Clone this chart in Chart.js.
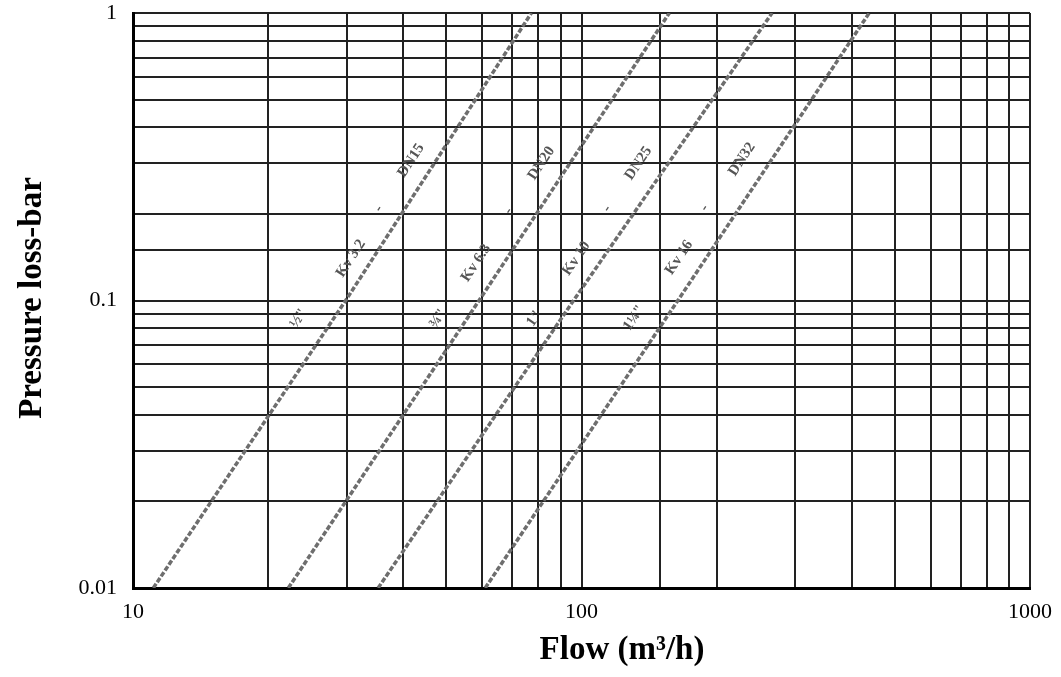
<!DOCTYPE html>
<html>
<head>
<meta charset="utf-8">
<script src="https://cdn.jsdelivr.net/npm/chart.js@4/dist/chart.umd.min.js"></script>
<style>
  html, body { margin: 0; padding: 0; background: #fff; }
  #wrap { width: 1061px; height: 677px; position: relative; }
</style>
</head>
<body>
<div id="wrap"><canvas id="c" width="1061" height="677"></canvas></div>
<script>
// ---- data ----
const pressureLevels = [0.01, 0.1, 1];            // bar
const flowLine1 = [11.1, 29.8, 77.3];             // m3/h at each pressure level
const flowLine2 = [22.2, 59.1, 157];
const flowLine3 = [35.2, 96.0, 266];
const flowLine4 = [61.0, 164, 438];

const xTickLabels = [10, 100, 1000];
const yTickLabels = [0.01, 0.1, 1];

// line annotations (text pieces laid along each curve), anchored in data units
const labelTop    = ['DN15', 'DN20', 'DN25', 'DN32'];
const labelSmall  = ['-', '-', '-', '-'];
const labelLong   = ['Kv 3.2', 'Kv 6.3', 'Kv 10', 'Kv 16'];
const labelBottom = ['½"', '¾"', '1"', '1¼"'];
const labelTopFlow    = [41.7, 81.4, 134, 228];
const labelSmallFlow  = [35.3, 68.7, 114, 188];
const labelLongFlow   = [30.6, 58.2, 97.4, 165];
const labelBottomFlow = [23.4, 47.9, 78.5, 131];
const labelTopP    = [0.307, 0.30, 0.30, 0.31];
const labelSmallP  = [0.209, 0.205, 0.209, 0.21];
const labelLongP   = [0.140, 0.135, 0.140, 0.141];
const labelBottomP = [0.0866, 0.0866, 0.0866, 0.087];

const allFlows = [flowLine1, flowLine2, flowLine3, flowLine4];

function pts(flows) { return flows.map((f, i) => ({ x: f, y: pressureLevels[i] })); }

const lineStyle = {
  borderColor: '#6e6e6e',
  borderWidth: 3.5,
  borderDash: [5, 2],
  pointRadius: 0,
  tension: 0,
  fill: false
};

const isPow10 = v => Math.abs(Math.log10(v) - Math.round(Math.log10(v))) < 1e-9;

const annot = {
  id: 'annot',
  afterDatasetsDraw(chart) {
    const { ctx, scales: { x, y } } = chart;
    ctx.save();
    ctx.fillStyle = '#555';
    ctx.font = 'bold 15px "Liberation Serif"';
    ctx.textAlign = 'center';
    ctx.textBaseline = 'middle';
    const groups = [
      [labelTop, labelTopFlow, labelTopP],
      [labelSmall, labelSmallFlow, labelSmallP],
      [labelLong, labelLongFlow, labelLongP],
      [labelBottom, labelBottomFlow, labelBottomP]
    ];
    for (let i = 0; i < allFlows.length; i++) {
      const f = allFlows[i];
      const x0 = x.getPixelForValue(f[0]), y0 = y.getPixelForValue(pressureLevels[0]);
      const x1 = x.getPixelForValue(f[2]), y1 = y.getPixelForValue(pressureLevels[2]);
      const ang = Math.atan2(y1 - y0, x1 - x0);
      for (const [txt, fl, pr] of groups) {
        ctx.save();
        ctx.translate(x.getPixelForValue(fl[i]), y.getPixelForValue(pr[i]));
        ctx.rotate(ang);
        ctx.fillText(txt[i], 0, 0);
        ctx.restore();
      }
    }
    ctx.restore();
  },
  afterDraw(chart) {
    const { ctx } = chart;
    ctx.save();
    ctx.fillStyle = '#000';
    ctx.font = 'bold 33px "Liberation Serif"';
    ctx.textAlign = 'center';
    ctx.textBaseline = 'middle';
    ctx.fillText('Flow (m³/h)', 622, 650);
    ctx.translate(32, 298);
    ctx.rotate(-Math.PI / 2);
    ctx.fillText('Pressure loss-bar', 0, 0);
    ctx.restore();
  }
};

new Chart(document.getElementById('c'), {
  type: 'line',
  data: {
    datasets: allFlows.map((f, i) => Object.assign({ label: 'line' + (i + 1), data: pts(f) }, lineStyle))
  },
  options: {
    responsive: false,
    animation: false,
    parsing: true,
    layout: { padding: { top: 13, right: 31, left: 0, bottom: 0 } },
    plugins: { legend: { display: false }, tooltip: { enabled: false } },
    scales: {
      x: {
        type: 'logarithmic',
        min: xTickLabels[0],
        max: xTickLabels[xTickLabels.length - 1],
        afterFit(s) { s.height = 89; s.paddingLeft = 0; s.paddingRight = 0; },
        grid: { color: '#222', lineWidth: 2, drawTicks: false },
        border: { color: '#000', width: 3 },
        ticks: {
          autoSkip: false, maxRotation: 0, padding: 11,
          color: '#000', font: { family: 'Liberation Serif', size: 22 },
          callback: v => (isPow10(v) && xTickLabels.some(t => Math.abs(t - v) < 1e-9)) ? String(v) : ''
        }
      },
      y: {
        type: 'logarithmic',
        min: yTickLabels[0],
        max: yTickLabels[yTickLabels.length - 1],
        afterFit(s) { s.width = 133; s.paddingTop = 0; s.paddingBottom = 0; },
        grid: { color: '#222', lineWidth: 2, drawTicks: false },
        border: { color: '#000', width: 3 },
        ticks: {
          autoSkip: false, padding: 16,
          color: '#000', font: { family: 'Liberation Serif', size: 22 },
          callback: v => (isPow10(v) && yTickLabels.some(t => Math.abs(t - v) < 1e-12)) ? String(v) : ''
        }
      }
    }
  },
  plugins: [annot]
});
</script>
</body>
</html>
